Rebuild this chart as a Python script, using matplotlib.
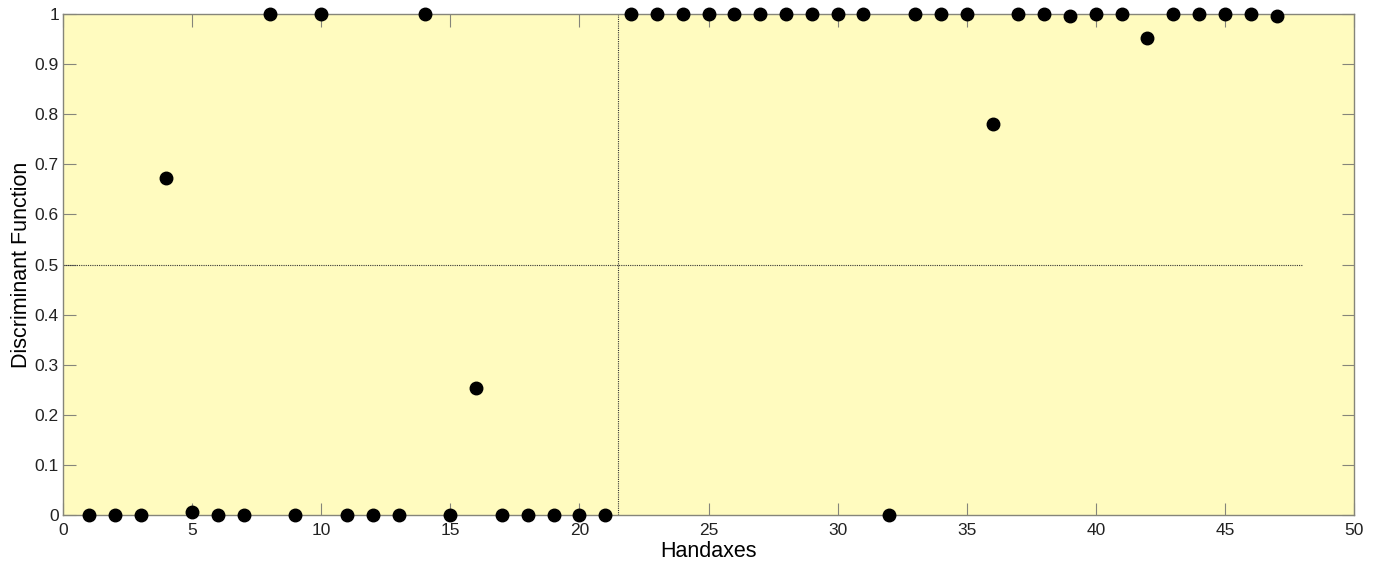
import matplotlib
matplotlib.use('Agg')
import matplotlib.pyplot as plt

plt.rcParams['font.family'] = ['Liberation Sans', 'DejaVu Sans']

# discriminant function score for each handaxe
handaxe = list(range(1, 48))
score = [0, 0, 0, 0.673, 0.005, 0, 0, 1, 0, 1,
         0, 0, 0, 1, 0, 0.253, 0, 0, 0, 0,
         0, 1, 1, 1, 1, 1, 1, 1, 1, 1,
         1, 0, 1, 1, 1, 0.78, 1, 1, 0.996, 1,
         1, 0.952, 1, 1, 1, 1, 0.996]

threshold = 0.5
split_x = 21.5
threshold_end = 48

yticks = [0, 0.1, 0.2, 0.3, 0.4, 0.5, 0.6, 0.7, 0.8, 0.9, 1]
yticklabels = ['0', '0.1', '0.2', '0.3', '0.4', '0.5', '0.6', '0.7', '0.8', '0.9', '1']

fig = plt.figure(figsize=(13.83, 5.65), dpi=100)
ax = fig.add_axes([0.0456, 0.0885, 0.9334, 0.8865])
ax.set_facecolor('#fffbbf')

ax.plot([0, threshold_end], [threshold, threshold], color='#333333',
        linestyle=(0, (1, 1)), linewidth=0.8, zorder=2)
ax.plot([split_x, split_x], [0, 1], color='#333333',
        linestyle=(0, (1, 1)), linewidth=0.8, zorder=2)

ax.plot(handaxe, score, 'o', color='black', markersize=9, linestyle='none',
        clip_on=False, zorder=5)

ax.set_xlim(0, 50)
ax.set_ylim(0, 1)
ax.set_xticks(range(0, 51, 5))
ax.set_yticks(yticks)
ax.set_yticklabels(yticklabels)

for s in ax.spines.values():
    s.set_color('#85857a')
    s.set_linewidth(1.0)
ax.tick_params(direction='in', length=9, width=0.8, color='#85857a',
               top=True, right=True, labelsize=12.5, labelcolor='#222222', pad=3)
ax.tick_params(axis='x', pad=6)

ax.set_xlabel('Handaxes', fontsize=15.5, labelpad=2)
ax.set_ylabel('Discriminant Function', fontsize=15.5, labelpad=2)

fig.savefig('out.png', dpi=100)
